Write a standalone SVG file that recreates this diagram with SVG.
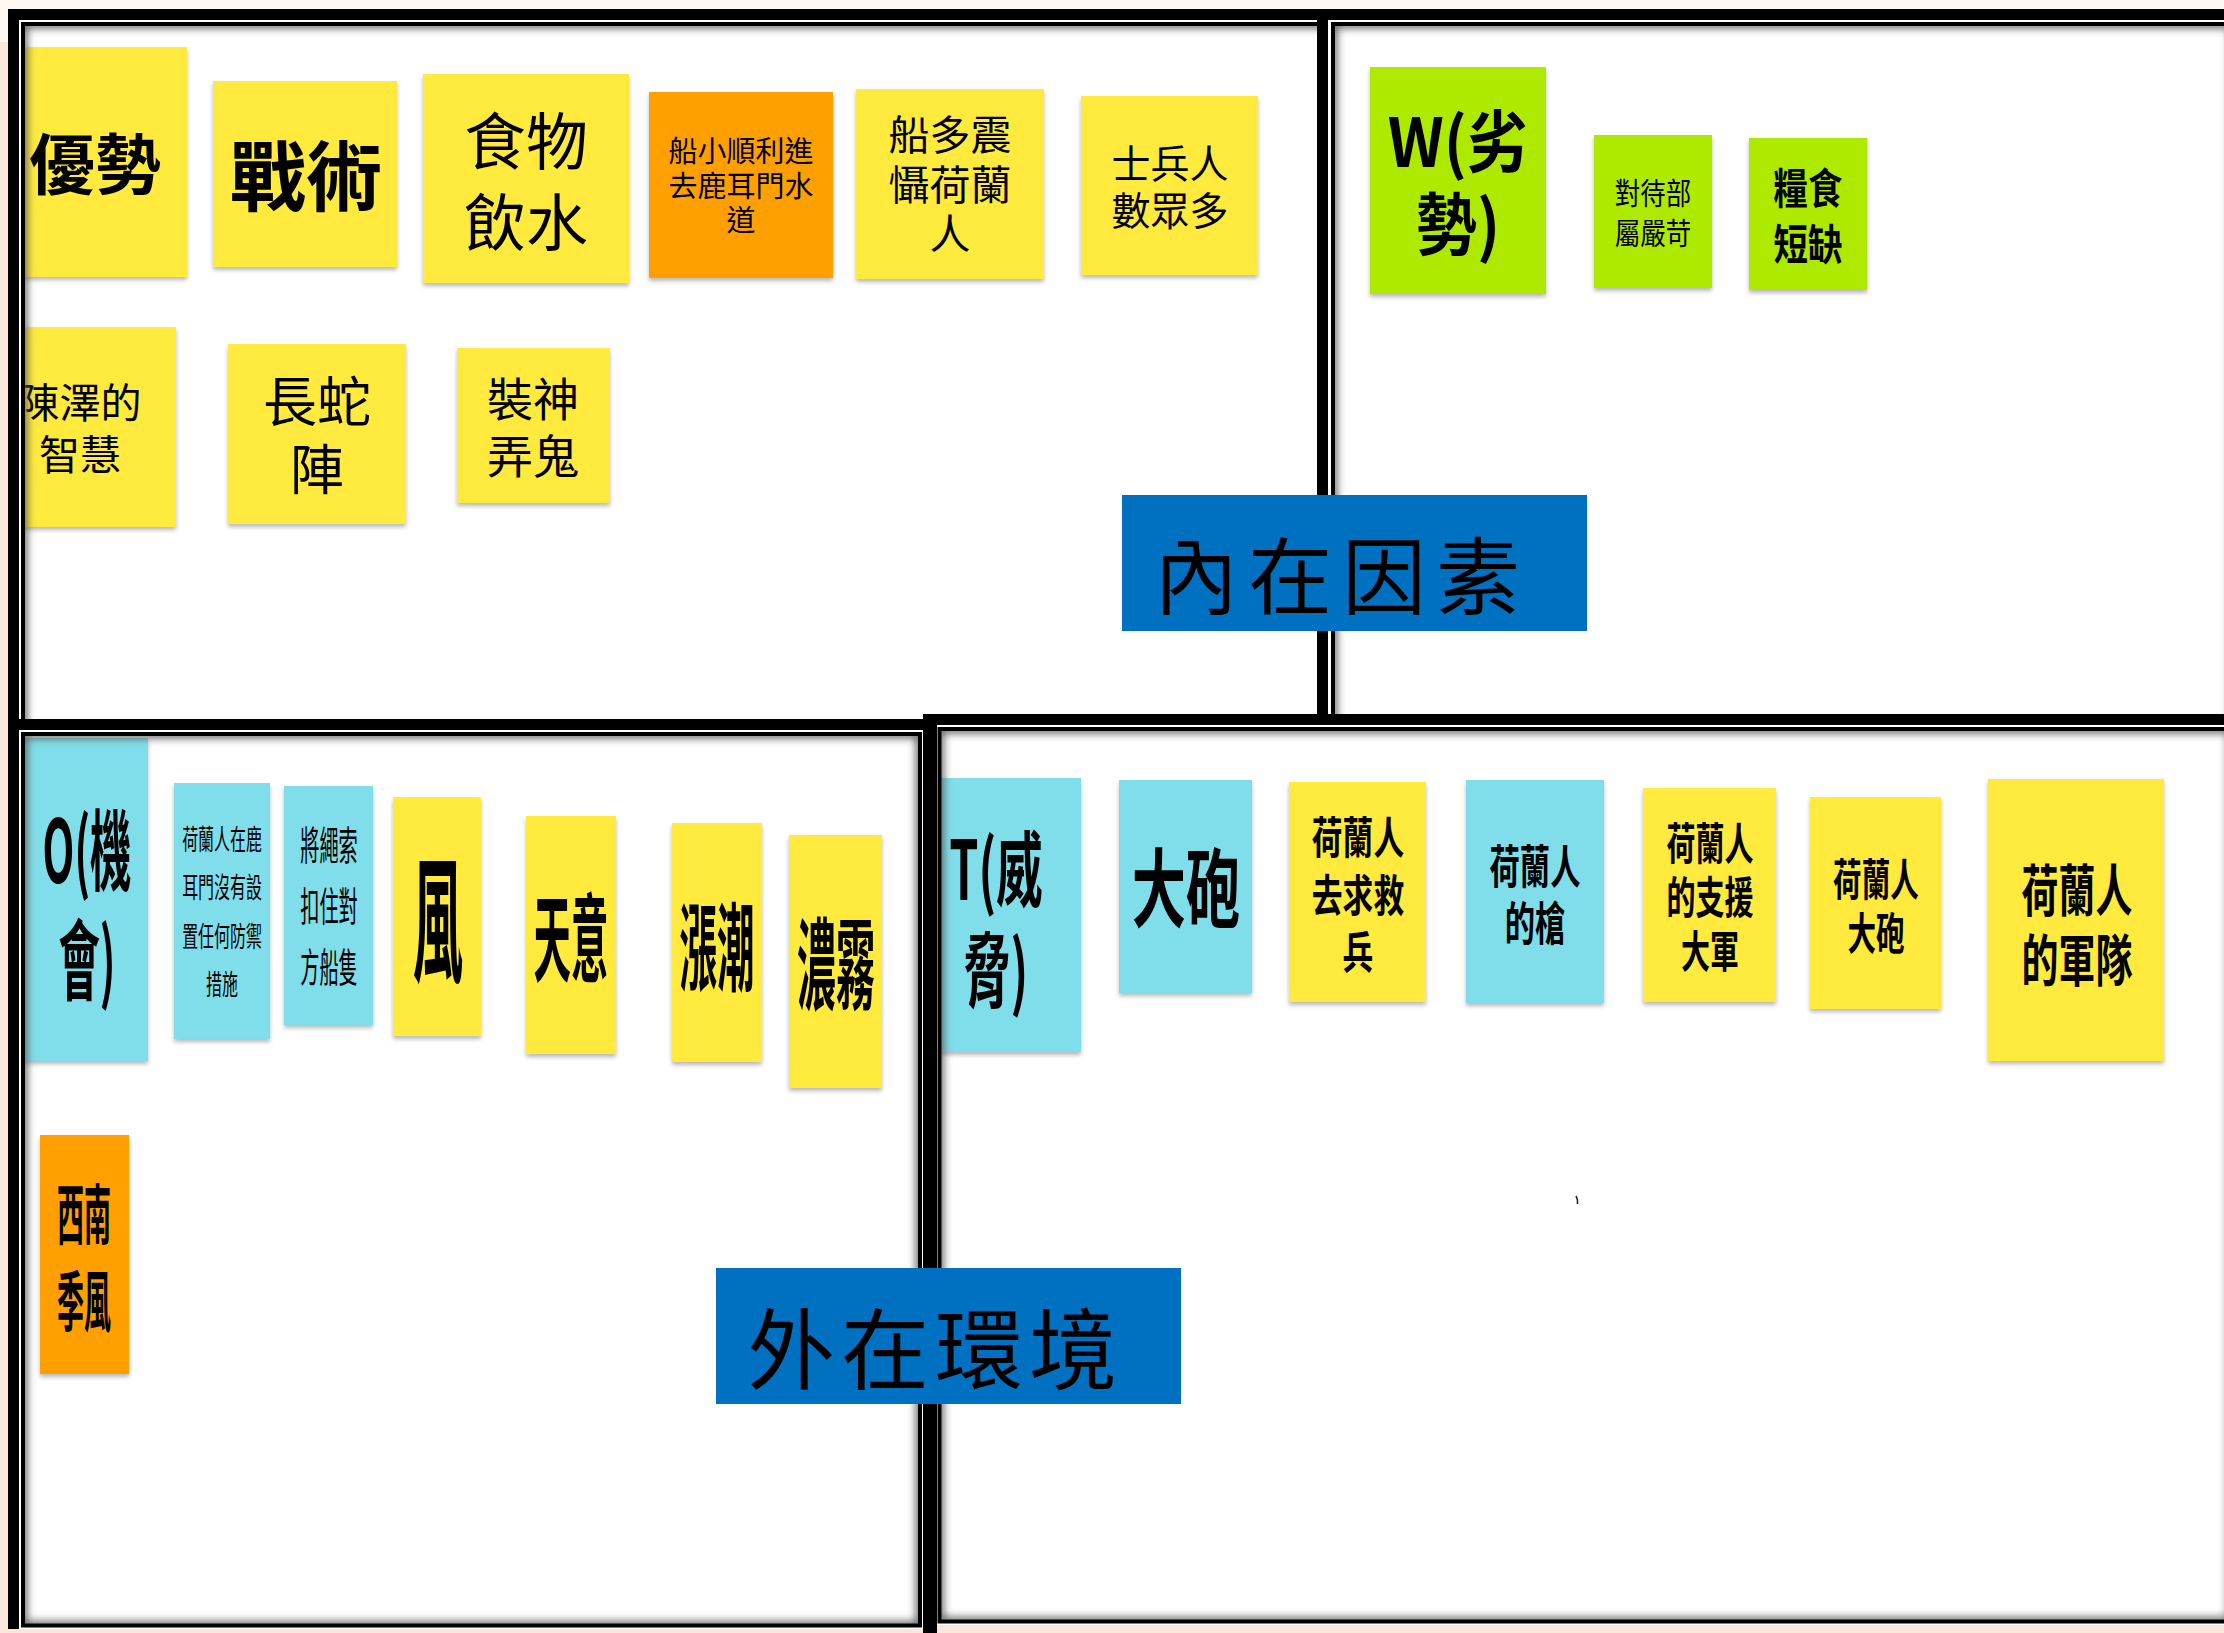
<svg xmlns="http://www.w3.org/2000/svg" width="2224" height="1633" viewBox="0 0 2224 1633">
<defs>
<style>
.y{fill:#ffea3c}.o{fill:#ffa000}.c{fill:#80deea}.g{fill:#aeea00}
.t{font-family:"Noto Sans CJK TC","Noto Sans CJK SC",sans-serif;fill:#000;text-anchor:middle;dominant-baseline:central}
.b{font-weight:700}
.thick{fill:none;stroke:#000;stroke-width:11}
.thin{fill:none;stroke:#000;stroke-width:4}
.sh{fill:none;stroke:#5a5a5a;stroke-width:8}
.pf{fill:#fff}
.lbl{fill:#0070c0}
</style>
<filter id="ns" x="-10%" y="-10%" width="120%" height="120%"><feDropShadow dx="0" dy="3" stdDeviation="2" flood-color="#000" flood-opacity="0.28"/></filter>
<filter id="blur" x="-2%" y="-2%" width="104%" height="104%"><feGaussianBlur stdDeviation="4"/></filter>
<clipPath id="cTL"><rect x="25" y="26" width="1292" height="693"/></clipPath>
<clipPath id="cTR"><rect x="1335" y="26" width="900" height="688"/></clipPath>
<clipPath id="cBL"><rect x="25" y="736" width="893" height="888"/></clipPath>
<clipPath id="cBR"><rect x="940" y="731" width="1300" height="889"/></clipPath>
</defs>

<rect x="0" y="0" width="2224" height="1633" fill="#fdf8f1"/>
<rect x="0" y="42" width="8" height="1591" fill="#f9e7dc"/>

<g id="panel-internal-strengths">
<rect class="pf" x="8" y="9" width="1337" height="736"/>
<g clip-path="url(#cTL)">
<g id="n-youshi"><rect class="y" filter="url(#ns)" x="10" y="47" width="177" height="230"/><text class="t b" font-size="66" x="95" y="160">優勢</text></g>
<g id="n-zhanshu"><rect class="y" filter="url(#ns)" x="213" y="81" width="184" height="186"/><text class="t b" font-size="76" x="306" y="172">戰術</text></g>
<g id="n-shiwu"><rect class="y" filter="url(#ns)" x="423" y="74" width="206" height="209"/><text class="t" font-size="62"><tspan x="526" y="138">食物</tspan><tspan x="526" y="219">飲水</tspan></text></g>
<g id="n-chuanxiao"><rect class="o" filter="url(#ns)" x="649" y="92" width="184" height="186"/><text class="t" font-size="29"><tspan x="741" y="149">船小順利進</tspan><tspan x="741" y="184">去鹿耳門水</tspan><tspan x="741" y="218">道</tspan></text></g>
<g id="n-chuanduo"><rect class="y" filter="url(#ns)" x="856" y="89" width="188" height="190"/><text class="t" font-size="41"><tspan x="950" y="132">船多震</tspan><tspan x="950" y="182">懾荷蘭</tspan><tspan x="950" y="231">人</tspan></text></g>
<g id="n-shibing"><rect class="y" filter="url(#ns)" x="1081" y="96" width="177" height="179"/><text class="t" font-size="39"><tspan x="1170" y="161">士兵人</tspan><tspan x="1170" y="208">數眾多</tspan></text></g>
<g id="n-chenze"><rect class="y" filter="url(#ns)" x="10" y="327" width="166" height="200"/><text class="t" font-size="41"><tspan x="80" y="400">陳澤的</tspan><tspan x="80" y="452">智慧</tspan></text></g>
<g id="n-changshe"><rect class="y" filter="url(#ns)" x="228" y="344" width="178" height="180"/><text class="t" font-size="54"><tspan x="317" y="398">長蛇</tspan><tspan x="317" y="466">陣</tspan></text></g>
<g id="n-zhuangshen"><rect class="y" filter="url(#ns)" x="457" y="348" width="153" height="155"/><text class="t" font-size="46"><tspan x="533" y="396">裝神</tspan><tspan x="533" y="453">弄鬼</tspan></text></g>
</g>
<rect class="sh" filter="url(#blur)" clip-path="url(#cTL)" x="23" y="24" width="1400" height="800"/>
<rect class="thick" x="13.5" y="14.5" width="1326" height="725"/>
<rect class="thin" x="23" y="24" width="1306" height="705"/>
</g>

<g id="panel-weaknesses">
<rect class="pf" x="1317" y="9" width="940" height="736"/>
<g clip-path="url(#cTR)">
<g id="n-W"><rect class="g" filter="url(#ns)" x="1370" y="67" width="176" height="227"/><text class="t b" font-size="68" transform="translate(1458,0) scale(0.9,1)"><tspan x="0" y="138">W(劣</tspan><tspan x="0" y="221">勢)</tspan></text></g>
<g id="n-duidai"><rect class="g" filter="url(#ns)" x="1594" y="135" width="118" height="153"/><text class="t" font-size="30" transform="translate(1653,0) scale(0.85,1)"><tspan x="0" y="191">對待部</tspan><tspan x="0" y="231">屬嚴苛</tspan></text></g>
<g id="n-liangshi"><rect class="g" filter="url(#ns)" x="1749" y="138" width="118" height="152"/><text class="t b" font-size="42" transform="translate(1808,0) scale(0.82,1)"><tspan x="0" y="185">糧食</tspan><tspan x="0" y="241">短缺</tspan></text></g>
</g>
<rect class="sh" filter="url(#blur)" clip-path="url(#cTR)" x="1333" y="24" width="900" height="800"/>
<rect class="thick" x="1322.5" y="14.5" width="920" height="725"/>
<rect class="thin" x="1333" y="24" width="900" height="705"/>
</g>

<g id="label-internal">
<rect class="lbl" x="1122" y="495" width="465" height="136"/>
<text class="t" font-size="84" letter-spacing="10" x="1342" y="571">內在因素</text>
</g>

<g id="panel-opportunities">
<rect class="pf" x="8" y="719" width="927" height="914"/>
<g clip-path="url(#cBL)">
<g id="n-O"><rect class="c" filter="url(#ns)" x="10" y="738" width="138" height="323"/><text class="t b" font-size="88" transform="translate(87,0) scale(0.47,1)"><tspan x="0" y="845">O(機</tspan><tspan x="0" y="955">會)</tspan></text></g>
<g id="n-helanren-luermen"><rect class="c" filter="url(#ns)" x="174" y="783" width="96" height="256"/><text class="t" font-size="28" transform="translate(222,0) scale(0.57,1)"><tspan x="0" y="838">荷蘭人在鹿</tspan><tspan x="0" y="886">耳門沒有設</tspan><tspan x="0" y="935">置任何防禦</tspan><tspan x="0" y="983">措施</tspan></text></g>
<g id="n-shengsuo"><rect class="c" filter="url(#ns)" x="284" y="786" width="89" height="239"/><text class="t" font-size="40" transform="translate(329,0) scale(0.48,1)"><tspan x="0" y="842">將繩索</tspan><tspan x="0" y="903">扣住對</tspan><tspan x="0" y="964">方船隻</tspan></text></g>
<g id="n-feng"><rect class="y" filter="url(#ns)" x="393" y="797" width="88" height="239"/><text class="t b" font-size="136" transform="translate(438,0) scale(0.37,1)" x="0" y="913">風</text></g>
<g id="n-tianyi"><rect class="y" filter="url(#ns)" x="526" y="816" width="90" height="238"/><text class="t b" font-size="96" transform="translate(571,0) scale(0.39,1)" x="0" y="932">天意</text></g>
<g id="n-zhangchao"><rect class="y" filter="url(#ns)" x="672" y="823" width="90" height="239"/><text class="t b" font-size="96" transform="translate(717,0) scale(0.39,1)" x="0" y="941">漲潮</text></g>
<g id="n-nongwu"><rect class="y" filter="url(#ns)" x="789" y="835" width="93" height="253"/><text class="t b" font-size="100" transform="translate(836,0) scale(0.39,1)" x="0" y="959">濃霧</text></g>
<g id="n-xinan"><rect class="o" filter="url(#ns)" x="40" y="1135" width="89" height="239"/><text class="t b" font-size="66" transform="translate(84,0) scale(0.41,1)"><tspan x="0" y="1210">西南</tspan><tspan x="0" y="1297">季風</tspan></text></g>
</g>
<rect class="sh" filter="url(#blur)" clip-path="url(#cBL)" x="23" y="734" width="897" height="891.5"/>
<rect class="thick" x="13.5" y="724.5" width="916" height="916"/>
<rect class="thin" x="23" y="734" width="897" height="891.5"/>
</g>

<g id="panel-threats">
<rect class="pf" x="923" y="714" width="1330" height="919"/>
<g clip-path="url(#cBR)">
<g id="n-T"><rect class="c" filter="url(#ns)" x="925" y="778" width="156" height="274"/><text class="t b" font-size="82" transform="translate(996,0) scale(0.57,1)"><tspan x="0" y="864">T(威</tspan><tspan x="0" y="965">脅)</tspan></text></g>
<g id="n-dapao"><rect class="c" filter="url(#ns)" x="1119" y="780" width="133" height="213"/><text class="t b" font-size="86" transform="translate(1186,0) scale(0.63,1)" x="0" y="884">大砲</text></g>
<g id="n-qiujiu"><rect class="y" filter="url(#ns)" x="1289" y="782" width="137" height="220"/><text class="t b" font-size="44" transform="translate(1358,0) scale(0.7,1)"><tspan x="0" y="834">荷蘭人</tspan><tspan x="0" y="892">去求救</tspan><tspan x="0" y="949">兵</tspan></text></g>
<g id="n-qiang"><rect class="c" filter="url(#ns)" x="1466" y="780" width="138" height="223"/><text class="t b" font-size="46" transform="translate(1535,0) scale(0.66,1)"><tspan x="0" y="863">荷蘭人</tspan><tspan x="0" y="920">的槍</tspan></text></g>
<g id="n-zhiyuan"><rect class="y" filter="url(#ns)" x="1643" y="788" width="133" height="214"/><text class="t b" font-size="44" transform="translate(1710,0) scale(0.66,1)"><tspan x="0" y="841">荷蘭人</tspan><tspan x="0" y="895">的支援</tspan><tspan x="0" y="949">大軍</tspan></text></g>
<g id="n-helan-dapao"><rect class="y" filter="url(#ns)" x="1810" y="797" width="131" height="212"/><text class="t b" font-size="44" transform="translate(1876,0) scale(0.65,1)"><tspan x="0" y="877">荷蘭人</tspan><tspan x="0" y="931">大砲</tspan></text></g>
<g id="n-jundui"><rect class="y" filter="url(#ns)" x="1988" y="779" width="176" height="282"/><text class="t b" font-size="56" transform="translate(2077,0) scale(0.66,1)"><tspan x="0" y="886">荷蘭人</tspan><tspan x="0" y="956">的軍隊</tspan></text></g>
</g>
<rect class="sh" filter="url(#blur)" clip-path="url(#cBR)" x="939.5" y="729" width="1292" height="892.5"/>
<rect class="thick" x="928.5" y="719.5" width="1312" height="921"/>
<rect class="thin" x="939.5" y="729" width="1292" height="892.5"/>
<path d="M1576,1196 q2,3 1.5,8" fill="none" stroke="#222" stroke-width="1.6"/>
</g>

<g id="bottom-edge">
<rect x="0" y="1629" width="923" height="4" fill="#f9e7dc"/>
<rect x="937" y="1625" width="1287" height="8" fill="#f9e7dc"/>
<rect x="923" y="714" width="14" height="919" fill="#000"/>
</g>

<g id="label-external">
<rect class="lbl" x="716" y="1268" width="465" height="136"/>
<text class="t" font-size="88" letter-spacing="6" x="935" y="1343">外在環境</text>
</g>

<g id="connectors"/>
</svg>
